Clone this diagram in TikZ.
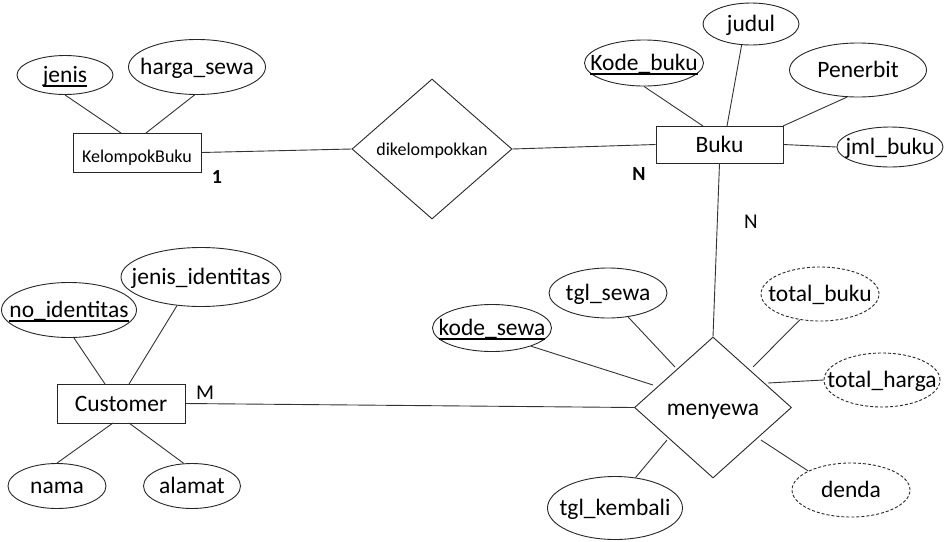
\documentclass[tikz,border=0pt]{standalone}
\usepackage{fontspec}
\setmainfont{Carlito}
\usetikzlibrary{shapes.geometric}
\newcommand{\zw}[1]{\makebox[0pt]{#1}}
\newcommand{\keyul}[1]{\setbox0=\hbox{#1}\rlap{\raisebox{-4.5pt}{\rule{\wd0}{1.8pt}}}\box0}
\begin{document}
\begin{tikzpicture}[x=1pt,y=-1pt,line width=0.9pt,
  every node/.style={inner sep=0pt,font=\fontsize{23.5}{27}\selectfont,text=black,text height=18pt,text depth=3pt},
  entbox/.style={draw=black!85,rectangle},
  attr/.style={draw=black!85,ellipse},
  derived/.style={attr,dash pattern=on 3pt off 2pt},
  rel/.style={draw=black!85,diamond},
  card/.style={font=\fontsize{21}{25}\selectfont},
  cardb/.style={font=\fontsize{20}{24}\selectfont\bfseries},
  conn/.style={draw=black!80,line width=0.9pt}]
\useasboundingbox (0,0) rectangle (952,541);

% entities
\node[entbox,minimum width=128pt,minimum height=39pt,font=\fontsize{18}{22}\selectfont,text height=20pt,text depth=1pt] (kb) at (137,152.5) {KelompokBuku};
\node[entbox,minimum width=127pt,minimum height=37pt] (buku) at (719.5,144.5) {Buku};
\node[entbox,minimum width=128pt,minimum height=39pt] (cust) at (121,403.5) {Customer};

% relationships
\node[rel,minimum width=160pt,minimum height=140pt,font=\fontsize{18}{22}\selectfont,text height=15pt,text depth=3pt] (dik) at (432,149) {\zw{dikelompokkan}};
\node[rel,minimum width=157pt,minimum height=141pt] (meny) at (713,407.5) {\zw{menyewa}};

% attributes
\node[attr,minimum width=96pt,minimum height=39pt] (jenis) at (65,75) {\zw{\keyul{jenis}}};
\node[attr,minimum width=137pt,minimum height=55pt] (harga) at (197,67) {\zw{harga\_sewa}};
\node[attr,minimum width=119pt,minimum height=46pt] (kode) at (644,63) {\zw{\keyul{Kode\_buku}}};
\node[attr,minimum width=96pt,minimum height=42pt] (judul) at (751,24) {\zw{judul}};
\node[attr,minimum width=137pt,minimum height=54pt] (pen) at (858,70) {\zw{Penerbit}};
\node[attr,minimum width=106pt,minimum height=40pt] (jml) at (890,147) {\zw{jml\_buku}};
\node[attr,minimum width=135pt,minimum height=55pt] (noid) at (69,310) {\zw{\keyul{no\_identitas}}};
\node[attr,minimum width=160pt,minimum height=59pt] (jid) at (201,277) {\zw{jenis\_identitas}};
\node[attr,minimum width=98pt,minimum height=45pt] (nama) at (57,486) {\zw{nama}};
\node[attr,minimum width=97pt,minimum height=45pt] (alamat) at (192,486) {\zw{alamat}};
\node[attr,minimum width=119pt,minimum height=47pt] (ksewa) at (492,328) {\zw{\keyul{kode\_sewa}}};
\node[attr,minimum width=118pt,minimum height=50pt] (tsewa) at (608,293) {\zw{tgl\_sewa}};
\node[derived,minimum width=118pt,minimum height=54pt] (tbuku) at (820,294) {\zw{total\_buku}};
\node[derived,minimum width=116pt,minimum height=54pt] (tharga) at (882,380) {\zw{total\_harga}};
\node[derived,minimum width=118pt,minimum height=54pt] (denda) at (851,490) {\zw{denda}};
\node[attr,minimum width=135pt,minimum height=63pt] (tkem) at (615,508) {\zw{tgl\_kembali}};

% cardinalities
\node[cardb] (c1) at (217,176) {1};
\node[cardb] (cn1) at (639,173) {N};
\node[card] (cn2) at (751,221) {N};
\node[card] (cm) at (205,392) {M};

% connector end points on entities / near relationship
\coordinate (kbA) at (121,133);
\coordinate (kbB) at (146,133);
\coordinate (bkA) at (703,126);
\coordinate (bkB) at (727,126);
\coordinate (bkC) at (783,126);
\coordinate (csA) at (105,384);
\coordinate (csB) at (129,384);
\coordinate (csC) at (113,423);
\coordinate (csD) at (129,423);
\coordinate (mA) at (653,385);
\coordinate (mB) at (675,367);
\coordinate (mC) at (753,367);
\coordinate (mD) at (768,383);
\coordinate (mE) at (761,440);
\coordinate (mF) at (667,440);

% connectors
\draw[conn] (jenis.south) -- (kbA);
\draw[conn] (harga.-95) -- (kbB);
\draw[conn] (kb.east) -- (dik.west);
\draw[conn] (dik.east) -- (buku.west);
\draw[conn] (kode.south) -- (bkA);
\draw[conn] (judul.-114) -- (bkB);
\draw[conn] (pen.-112) -- (bkC);
\draw[conn] (buku.east) -- (jml.west);
\draw[conn] (buku.south) -- (meny.north);
\draw[conn] (noid.-80) -- (csA);
\draw[conn] (jid.-130) -- (csB);
\draw[conn] (nama.north) -- (csC);
\draw[conn] (alamat.110) -- (csD);
\draw[conn] (cust.east) -- (meny.west);
\draw[conn] (ksewa.-25) -- (mA);
\draw[conn] (tsewa.-50) -- (mB);
\draw[conn] (tbuku.-128) -- (mC);
\draw[conn] (tharga.west) -- (mD);
\draw[conn] (denda.156) -- (mE);
\draw[conn] (tkem.56) -- (mF);
\end{tikzpicture}
\end{document}
